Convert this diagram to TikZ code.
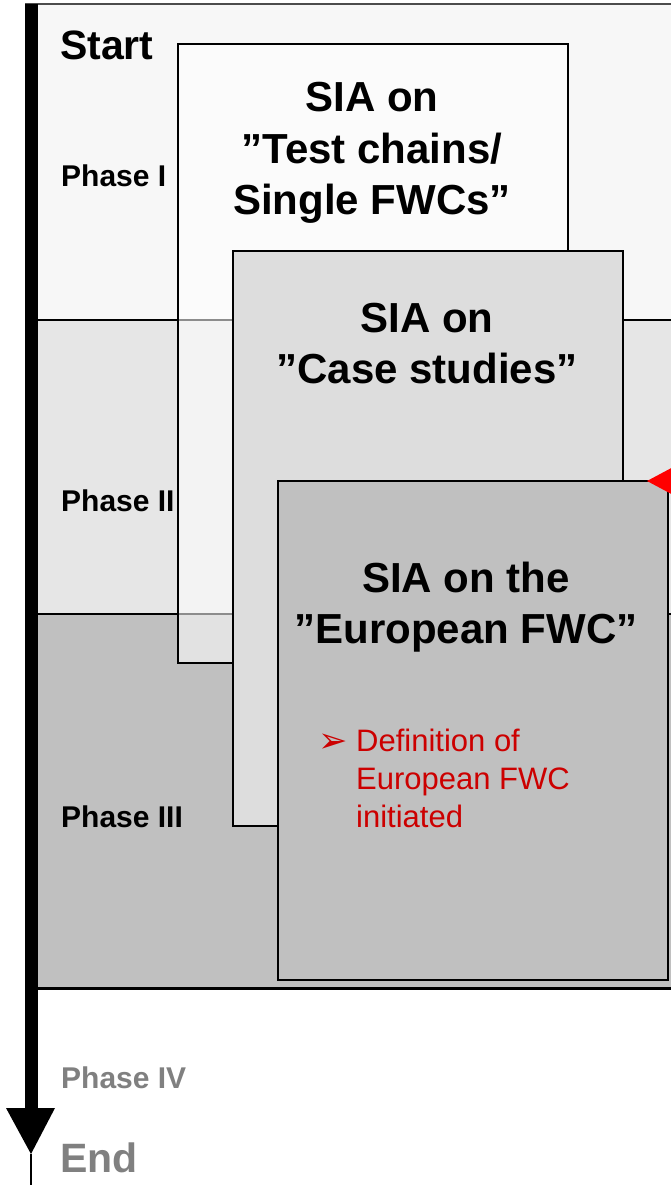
\documentclass[tikz,border=0pt]{standalone}
\usepackage{fontspec}
\setmainfont{Liberation Sans}
\newfontfamily\symfont{DejaVu Sans}
\definecolor{bandone}{HTML}{F7F7F7}
\definecolor{bandtwo}{HTML}{E6E6E6}
\definecolor{bandthree}{HTML}{C0C0C0}
\definecolor{casebox}{HTML}{DDDDDD}
\definecolor{eurobox}{HTML}{C0C0C0}
\definecolor{note}{HTML}{CC0000}
\definecolor{faded}{HTML}{808080}
\begin{document}
\begin{tikzpicture}[x=1pt,y=-1pt,
  sia/.style={draw=black,line width=2pt,inner sep=0pt,anchor=north west},
  title/.style={inner sep=0pt,anchor=base,align=center,
    font=\fontsize{42}{51}\selectfont\bfseries},
  phase/.style={inner sep=0pt,anchor=base west,
    font=\fontsize{30}{36}\selectfont\bfseries},
  milestone/.style={inner sep=0pt,anchor=base west,
    font=\fontsize{41}{49}\selectfont\bfseries},
  bandline/.style={draw=black,line width=2pt}]
\useasboundingbox (0,0) rectangle (671,1185);
\begin{scope}
\clip (0,0) rectangle (671,1185);
% phase bands
\fill[bandone] (37,4) rectangle (700,320);
\fill[bandtwo] (37,320) rectangle (700,614);
\fill[bandthree] (37,614) rectangle (700,988);
\draw[draw=black!70,line width=1.5pt] (25,4) -- (700,4);
\draw[bandline] (37,320) -- (700,320);
\draw[bandline] (37,614) -- (700,614);
\draw[draw=black,line width=3pt] (37,988) -- (700,988);
% phase labels
\node[phase] (p1) at (61,186) {Phase I};
\node[phase] (p2) at (61,511) {Phase II};
\node[phase] (p3) at (61,827) {Phase III};
\node[phase,text=faded] (p4) at (61,1088) {Phase IV};
\node[milestone] (start) at (60,60) {Start};
\node[milestone,text=faded] (end) at (60,1172) {End};
% SIA boxes
\node[sia,fill=white,fill opacity=0.55,minimum width=390pt,minimum height=619pt]
  (b1) at (177,43) {};
\node[sia,fill=casebox,minimum width=390pt,minimum height=575pt]
  (b2) at (232,250) {};
\node[sia,fill=eurobox,minimum width=390pt,minimum height=499pt]
  (b3) at (277,480) {};
% titles: the base anchor sits on the last line
\node[title] (t1) at (372,214) {SIA on\\”Test chains/\\Single FWCs”};
\node[title] (t2) at (427,383) {SIA on\\”Case studies”};
\node[title] (t3) at (466,643) {SIA on the\\”European FWC”};
\node[inner sep=0pt,anchor=base west,text=note,font=\symfont\fontsize{35}{40}\selectfont]
  (bul) at (318,752) {➢};
\node[inner sep=0pt,anchor=base west,align=left,text=note,
  font=\fontsize{31}{38}\selectfont] (def) at (356,827)
  {Definition of\\European FWC\\initiated};
% marker on the right edge
\coordinate (mk) at (647,481);
\fill[red] (mk) -- ++(45,-24) -- ++(0,48) -- cycle;
\end{scope}
% time arrow
\coordinate (top) at (31.5,4);
\coordinate (tip) at (31,1154);
\fill[black] (25,4) rectangle (38,1109);
\fill[black] (6,1108) -- (55,1108) -- (tip) -- cycle;
\draw[line width=2pt] (tip) -- (31,1185);
\end{tikzpicture}
\end{document}
